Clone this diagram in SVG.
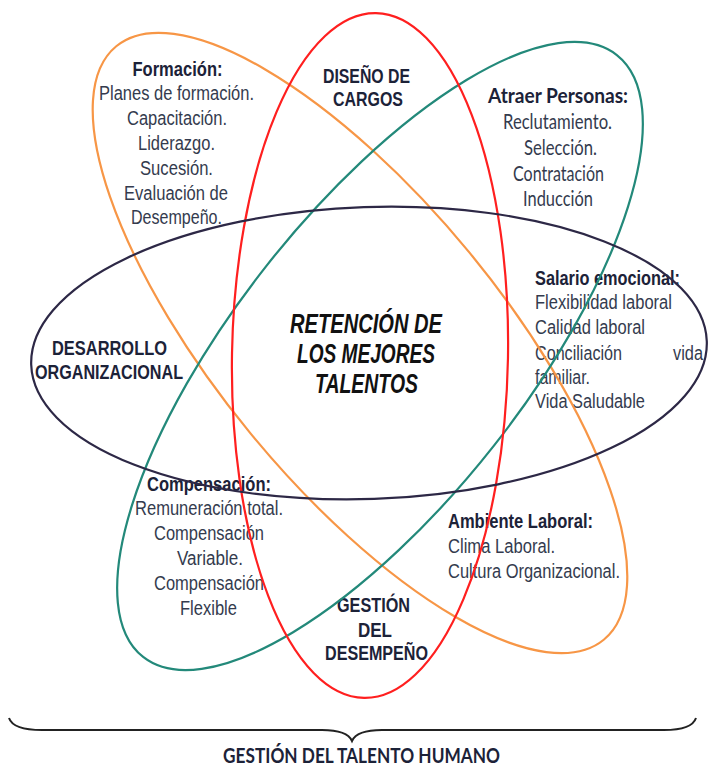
<svg xmlns="http://www.w3.org/2000/svg" width="710" height="768" viewBox="0 0 710 768">
<style>
.t{font-family:"Liberation Sans",Arial,sans-serif;font-size:20px;fill:#343b4e}
.h{font-family:"Liberation Sans",Arial,sans-serif;font-size:20px;font-weight:bold;fill:#1c2238}
.c{font-family:Lato,"Liberation Sans",sans-serif;font-size:21px;fill:#343b4e}
.ch{font-family:Lato,"Liberation Sans",sans-serif;font-size:21px;font-weight:bold;fill:#1c2238}
.big{font-family:"Liberation Sans",Arial,sans-serif;font-size:27px;font-weight:bold;font-style:italic;fill:#111}
.e{fill:none;stroke-width:2.2}
</style>
<rect width="710" height="768" fill="#fff"/>
<g id="formacion">
<text class="h" x="132.5" y="76" textLength="90" lengthAdjust="spacingAndGlyphs">Formación:</text>
<text class="t" x="99" y="100" textLength="155" lengthAdjust="spacingAndGlyphs">Planes de formación.</text>
<text class="t" x="127" y="125" textLength="100" lengthAdjust="spacingAndGlyphs">Capacitación.</text>
<text class="t" x="138" y="150" textLength="77" lengthAdjust="spacingAndGlyphs">Liderazgo.</text>
<text class="t" x="140" y="175" textLength="73" lengthAdjust="spacingAndGlyphs">Sucesión.</text>
<text class="t" x="124" y="200" textLength="104" lengthAdjust="spacingAndGlyphs">Evaluación de</text>
<text class="t" x="131" y="224" textLength="91" lengthAdjust="spacingAndGlyphs">Desempeño.</text>
</g>
<g id="diseno">
<text class="h" x="323" y="83" textLength="87" lengthAdjust="spacingAndGlyphs">DISEÑO DE</text>
<text class="h" x="333" y="106" textLength="70" lengthAdjust="spacingAndGlyphs">CARGOS</text>
</g>
<g id="atraer">
<text class="ch" x="488" y="103" textLength="140" lengthAdjust="spacingAndGlyphs">Atraer Personas:</text>
<text class="c" x="503" y="129" textLength="109" lengthAdjust="spacingAndGlyphs">Reclutamiento.</text>
<text class="c" x="524" y="155" textLength="73" lengthAdjust="spacingAndGlyphs">Selección.</text>
<text class="c" x="513" y="181" textLength="91" lengthAdjust="spacingAndGlyphs">Contratación</text>
<text class="c" x="523" y="206" textLength="70" lengthAdjust="spacingAndGlyphs">Inducción</text>
</g>
<g id="salario">
<text class="h" x="535" y="285" textLength="145" lengthAdjust="spacingAndGlyphs">Salario emocional:</text>
<text class="t" x="535" y="309" textLength="137" lengthAdjust="spacingAndGlyphs">Flexibilidad laboral</text>
<text class="t" x="535" y="334" textLength="110" lengthAdjust="spacingAndGlyphs">Calidad laboral</text>
<text class="t" x="535" y="360" textLength="87" lengthAdjust="spacingAndGlyphs">Conciliación</text>
<text class="t" x="673" y="360" textLength="30" lengthAdjust="spacingAndGlyphs">vida</text>
<text class="t" x="535" y="384" textLength="55" lengthAdjust="spacingAndGlyphs">familiar.</text>
<text class="t" x="535" y="408" textLength="110" lengthAdjust="spacingAndGlyphs">Vida Saludable</text>
</g>
<g id="desarrollo">
<text class="h" x="52" y="355" font-size="21" textLength="115" lengthAdjust="spacingAndGlyphs">DESARROLLO</text>
<text class="h" x="35" y="379" font-size="21" textLength="148" lengthAdjust="spacingAndGlyphs">ORGANIZACIONAL</text>
</g>
<g id="retencion">
<text class="big" x="290" y="333" textLength="152" lengthAdjust="spacingAndGlyphs">RETENCIÓN DE</text>
<text class="big" x="297" y="363" textLength="138" lengthAdjust="spacingAndGlyphs">LOS MEJORES</text>
<text class="big" x="315" y="393" textLength="103" lengthAdjust="spacingAndGlyphs">TALENTOS</text>
</g>
<g id="compensacion">
<text class="h" x="147" y="491" textLength="124" lengthAdjust="spacingAndGlyphs">Compensación:</text>
<text class="t" x="135" y="515" textLength="148" lengthAdjust="spacingAndGlyphs">Remuneración total.</text>
<text class="t" x="154" y="540" textLength="110" lengthAdjust="spacingAndGlyphs">Compensación</text>
<text class="t" x="177" y="565" textLength="66" lengthAdjust="spacingAndGlyphs">Variable.</text>
<text class="t" x="154" y="590" textLength="110" lengthAdjust="spacingAndGlyphs">Compensación</text>
<text class="t" x="180" y="615" textLength="57" lengthAdjust="spacingAndGlyphs">Flexible</text>
</g>
<g id="gestion-desempeno">
<text class="h" x="337" y="612" textLength="73" lengthAdjust="spacingAndGlyphs">GESTIÓN</text>
<text class="h" x="358" y="637" textLength="34" lengthAdjust="spacingAndGlyphs">DEL</text>
<text class="h" x="325" y="660" textLength="103" lengthAdjust="spacingAndGlyphs">DESEMPEÑO</text>
</g>
<g id="ambiente">
<text class="h" x="448" y="528" textLength="145" lengthAdjust="spacingAndGlyphs">Ambiente Laboral:</text>
<text class="t" x="448" y="553" textLength="107" lengthAdjust="spacingAndGlyphs">Clima Laboral.</text>
<text class="t" x="448" y="578" textLength="172" lengthAdjust="spacingAndGlyphs">Cultura Organizacional.</text>
</g>
<g id="connectors">
<ellipse class="e" stroke="#f79646" cx="360" cy="343" rx="384" ry="142" transform="rotate(50.6 360 343)"/>
<ellipse class="e" stroke="#23897a" cx="380" cy="356" rx="383" ry="145" transform="rotate(-51.8 380 356)"/>
<ellipse class="e" stroke="#ff1f1f" cx="370" cy="355.5" rx="138" ry="342.5" transform="rotate(1 370 355.5)"/>
<ellipse class="e" stroke="#2d2846" cx="369" cy="353" rx="338" ry="146" transform="rotate(-2 369 353)"/>
</g>
<g id="talento-humano">
<path d="M9 718 C12 727 24 730 42 730 L322 730 C340 730 349 734 352 741 C355 734 364 730 382 730 L664 730 C682 730 693 727 696 718" fill="none" stroke="#222" stroke-width="2"/>
<text class="ch" x="223" y="763" font-size="20" textLength="277" lengthAdjust="spacingAndGlyphs">GESTIÓN DEL TALENTO HUMANO</text>
</g>
</svg>
